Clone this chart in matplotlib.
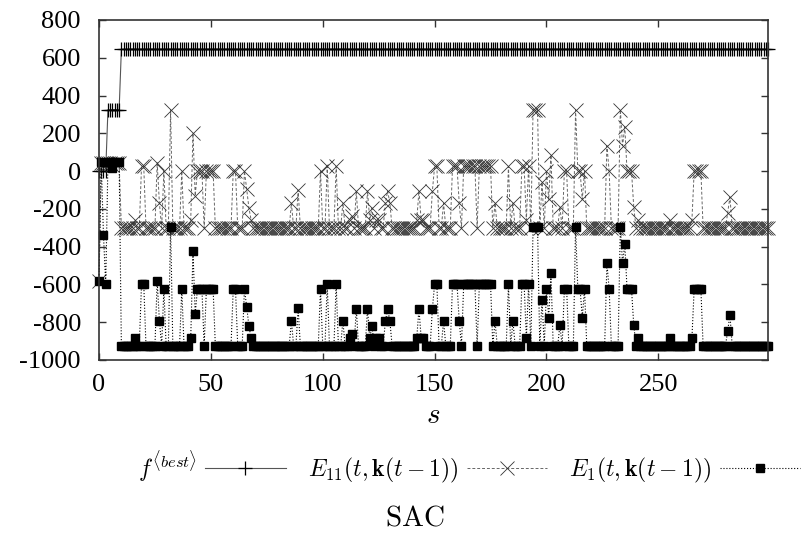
import numpy as np
import matplotlib.pyplot as plt

plt.rcParams['mathtext.fontset'] = 'cm'
plt.rcParams['font.family'] = ['Liberation Serif', 'DejaVu Serif']
plt.rcParams['axes.unicode_minus'] = False

# sample index s = 0..299
s = np.arange(300)

# f^<best> : step curve
f_best = [0] * 4 + [325] * 6 + [645] * 290

# E_11(t, k(t-1))
e11 = [
    -582, 45, 45, 45, 45, 45, 30, 45, 45, 45,
    -300, -300, -300, -300, -300, -300, -260, -300, -300, 25,
    25, -300, -300, -300, -300, -300, 45, -170, -300, 0,
    -300, -300, 325, -300, -300, -300, -300, 0, -300, -300,
    -300, -260, 200, -130, 0, 0, 0, -300, 0, 0,
    0, 0, -300, -300, -300, -300, -300, -300, -300, -300,
    0, 0, -300, -300, -300, 0, -95, -195, -260, -300,
    -300, -300, -300, -300, -300, -300, -300, -300, -300, -300,
    -300, -300, -300, -300, -300, -300, -170, -300, -300, -100,
    -300, -300, -300, -300, -300, -300, -300, -300, -300, 0,
    -300, -300, 25, -300, -300, -300, 25, -300, -300, -170,
    -300, -300, -260, -235, -300, -105, -300, -300, -300, -300,
    -105, -260, -195, -300, -260, -260, -300, -300, -170, -105,
    -170, -300, -300, -300, -300, -300, -300, -300, -300, -300,
    -300, -300, -260, -105, -260, -260, -300, -300, -300, -105,
    25, 25, -300, -300, -170, -300, -300, -300, 25, 25,
    25, -170, -300, 25, 25, 25, 25, 25, 25, -300,
    25, 25, 25, 25, 25, 25, -300, -170, -300, -300,
    -300, -300, -300, 25, -300, -170, -300, -300, -300, 25,
    25, -260, 25, -300, 325, 325, 325, -300, -60, -300,
    0, -150, 85, -300, -300, -300, -190, -300, 0, 0,
    -300, -300, -300, 325, 0, 0, -150, 0, -300, -300,
    -300, -300, -300, -300, -300, -300, -300, 135, 0, -300,
    -300, -300, -300, 325, 135, 235, 0, 0, 0, -190,
    -300, -260, -300, -300, -300, -300, -300, -300, -300, -300,
    -300, -300, -300, -300, -300, -260, -300, -300, -300, -300,
    -300, -300, -300, -300, -300, -260, 0, 0, 0, 0,
    -300, -300, -300, -300, -300, -300, -300, -300, -300, -300,
    -300, -220, -137, -300, -300, -300, -300, -300, -300, -300,
    -300, -300, -300, -300, -300, -300, -300, -300, -300, -300,
]

# E_1(t, k(t-1))
e1 = [
    -582, 50, -338, -598, 50, 50, 15, 50, 50, 50,
    -925, -925, -925, -925, -925, -925, -885, -925, -925, -598,
    -598, -925, -925, -925, -925, -925, -582, -794, -925, -624,
    -925, -925, -294, -925, -925, -925, -925, -624, -925, -925,
    -925, -885, -423, -757, -624, -624, -624, -925, -624, -624,
    -624, -624, -925, -925, -925, -925, -925, -925, -925, -925,
    -624, -624, -925, -925, -925, -624, -718, -820, -885, -925,
    -925, -925, -925, -925, -925, -925, -925, -925, -925, -925,
    -925, -925, -925, -925, -925, -925, -794, -925, -925, -727,
    -925, -925, -925, -925, -925, -925, -925, -925, -925, -624,
    -925, -925, -598, -925, -925, -925, -598, -925, -925, -794,
    -925, -925, -885, -860, -925, -730, -925, -925, -925, -925,
    -730, -885, -820, -925, -885, -885, -925, -925, -794, -730,
    -794, -925, -925, -925, -925, -925, -925, -925, -925, -925,
    -925, -925, -885, -730, -885, -885, -925, -925, -925, -730,
    -598, -598, -925, -925, -794, -925, -925, -925, -598, -598,
    -598, -794, -925, -598, -598, -598, -598, -598, -598, -925,
    -598, -598, -598, -598, -598, -598, -925, -794, -925, -925,
    -925, -925, -925, -598, -925, -794, -925, -925, -925, -598,
    -598, -885, -598, -925, -294, -294, -294, -925, -683, -925,
    -624, -775, -541, -925, -925, -925, -815, -925, -624, -624,
    -925, -925, -925, -294, -624, -624, -775, -624, -925, -925,
    -925, -925, -925, -925, -925, -925, -925, -488, -624, -925,
    -925, -925, -925, -294, -488, -388, -624, -624, -624, -815,
    -925, -885, -925, -925, -925, -925, -925, -925, -925, -925,
    -925, -925, -925, -925, -925, -885, -925, -925, -925, -925,
    -925, -925, -925, -925, -925, -885, -624, -624, -624, -624,
    -925, -925, -925, -925, -925, -925, -925, -925, -925, -925,
    -925, -845, -762, -925, -925, -925, -925, -925, -925, -925,
    -925, -925, -925, -925, -925, -925, -925, -925, -925, -925,
]

x_ticks = [0, 50, 100, 150, 200, 250]
y_ticks = [-1000, -800, -600, -400, -200, 0, 200, 400, 600, 800]

labels = [r'$f^{\langle best\rangle}$',
          r'$E_{11}(t,\mathbf{k}(t-1))$',
          r'$E_{1}(t,\mathbf{k}(t-1))$']

fig = plt.figure(figsize=(8.01, 5.38), dpi=100)
ax = fig.add_axes([99 / 801, 1 - 360 / 538, 669 / 801, 340 / 538])

p1, = ax.plot(s, f_best, '-', color='#555555', lw=0.8, marker='+', ms=10.5,
              mew=0.9, mec='black', clip_on=False)
p2, = ax.plot(s, e11, color='#666666', lw=0.7, dashes=(3, 2), marker='x',
              ms=10.5, mew=0.6, mec='#333333', clip_on=False)
p3, = ax.plot(s, e1, ':', color='black', lw=0.8, marker='s', ms=5.5,
              mfc='black', mec='black', clip_on=False)

ax.set_xlim(0, 299)
ax.set_ylim(-1000, 800)
ax.set_xticks(x_ticks)
ax.set_yticks(y_ticks)
ax.tick_params(direction='in', top=True, right=True, length=5, width=1,
               labelsize=19, color='#333333')
ax.tick_params(axis='y', pad=13)
ax.tick_params(axis='x', pad=10)
for sp in ax.spines.values():
    sp.set_linewidth(1.2)
    sp.set_color('#333333')

fig.text(433 / 801, 1 - 416 / 538, r'$s$', fontsize=21, ha='center', va='center')

fig.legend([p1, p2, p3], labels, loc='center',
           bbox_to_anchor=(469 / 801, 1 - 467 / 538), ncol=3,
           markerfirst=False, frameon=False, handlelength=3.4,
           handletextpad=0.35, columnspacing=0.95, numpoints=1, fontsize=17)

fig.text(415 / 801, 1 - 518 / 538, r'$\mathrm{SAC}$', fontsize=21,
         ha='center', va='center')

fig.savefig('out.png', dpi=100)
